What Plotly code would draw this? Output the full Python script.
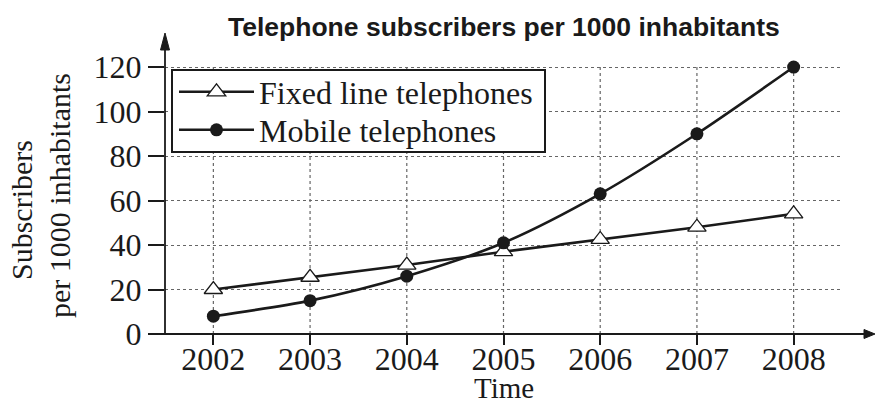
import plotly.graph_objects as go

# ---- data ----
years = [2002, 2003, 2004, 2005, 2006, 2007, 2008]
year_labels = ["2002", "2003", "2004", "2005", "2006", "2007", "2008"]
fixed_line = [20, 25.5, 31, 37, 42.5, 48, 54]
mobile = [8, 15, 26, 41, 63, 90, 120]
y_ticks = [0, 20, 40, 60, 80, 100, 120]

SERIF = "Liberation Serif"
SANS = "Liberation Sans"
INK = "#1a1a1a"
GRID = "#666"

# plot area in pixels: left 165, right 842, top 33, bottom 334
PW, PH = 677.0, 301.0
def px(x):
    return (x - 165) / PW
def py(y):
    return (334 - y) / PH

fig = go.Figure()

fig.add_trace(go.Scatter(
    x=years, y=fixed_line, name="Fixed line telephones",
    mode="lines+markers", legend="legend",
    line=dict(color=INK, width=2.6),
    marker=dict(symbol="triangle-up", size=16, color="white",
                line=dict(color=INK, width=1.3)),
))
fig.add_trace(go.Scatter(
    x=years, y=mobile, name="Mobile telephones",
    mode="lines+markers", legend="legend2",
    line=dict(color=INK, width=2.6, shape="spline", smoothing=0.8),
    marker=dict(symbol="circle", size=13, color=INK),
))

shapes = []
# vertical dotted gridlines up to the top tick
for yr in years:
    shapes.append(dict(type="line", xref="x", yref="y", x0=yr, x1=yr,
                       y0=0, y1=max(y_ticks), layer="below",
                       line=dict(color=GRID, width=1.2, dash="dot")))
# x axis line with arrow
shapes.append(dict(type="line", xref="paper", yref="paper",
                   x0=px(150), x1=px(866), y0=0, y1=0,
                   line=dict(color=INK, width=1.8)))
shapes.append(dict(type="path", xref="paper", yref="paper",
                   path=f"M {px(875)} 0 L {px(864)} {4.5/PH} L {px(864)} {-4.5/PH} Z",
                   fillcolor=INK, line=dict(color=INK, width=1)))
# y axis line with arrow
shapes.append(dict(type="line", xref="paper", yref="paper",
                   x0=0, x1=0, y0=0, y1=py(48),
                   line=dict(color=INK, width=1.8)))
shapes.append(dict(type="path", xref="paper", yref="paper",
                   path=f"M 0 {py(33)} L {4.5/PW} {py(50)} L {-4.5/PW} {py(50)} Z",
                   fillcolor=INK, line=dict(color=INK, width=1)))
# legend frame
shapes.append(dict(type="rect", xref="paper", yref="paper", layer="above",
                   x0=px(172), x1=px(545), y0=py(152), y1=py(70),
                   fillcolor="white", line=dict(color=INK, width=2)))

annotations = [
    dict(text="<b>Telephone subscribers per 1000 inhabitants</b>",
         xref="paper", yref="paper", x=px(504), y=py(27),
         xanchor="center", yanchor="middle", showarrow=False,
         font=dict(family=SANS, size=26.5, color=INK)),
    dict(text="Time", xref="paper", yref="paper", x=px(504), y=py(388),
         xanchor="center", yanchor="middle", showarrow=False,
         font=dict(family=SERIF, size=29, color=INK)),
    dict(text="Subscribers", xref="paper", yref="paper",
         x=px(21), y=py(210),
         xanchor="center", yanchor="middle", showarrow=False, textangle=-90,
         font=dict(family=SERIF, size=30, color=INK)),
    dict(text="per 1000 inhabitants", xref="paper", yref="paper",
         x=px(59), y=py(196),
         xanchor="center", yanchor="middle", showarrow=False, textangle=-90,
         font=dict(family=SERIF, size=30, color=INK)),
]

leg_common = dict(xanchor="left", yanchor="middle",
                  bgcolor="rgba(0,0,0,0)", borderwidth=0,
                  font=dict(family=SERIF, size=32, color=INK),
                  itemwidth=75)

fig.update_layout(
    width=875, height=409,
    margin=dict(l=165, r=33, t=33, b=75),
    paper_bgcolor="white", plot_bgcolor="white",
    shapes=shapes, annotations=annotations,
    showlegend=True,
    legend=dict(x=px(174), y=py(92), **leg_common),
    legend2=dict(x=px(174), y=py(130), **leg_common),
    xaxis=dict(range=[2001.5, 2008.5], tickvals=years, ticktext=year_labels,
               ticks="outside", ticklen=10, tickwidth=1.5, tickcolor=INK,
               showgrid=False, zeroline=False, showline=False,
               ticklabelstandoff=-13,
               tickfont=dict(family=SERIF, size=32, color=INK)),
    yaxis=dict(range=[0, 135.3], tickvals=y_ticks,
               ticks="outside", ticklen=16, tickwidth=1.5, tickcolor=INK,
               showgrid=True, gridcolor=GRID, gridwidth=1.2, griddash="dot",
               zeroline=False, showline=False,
               tickfont=dict(family=SERIF, size=32, color=INK)),
)

fig.write_html("out.html", config={"displayModeBar": False},
               post_script="document.body.style.margin='0';")
